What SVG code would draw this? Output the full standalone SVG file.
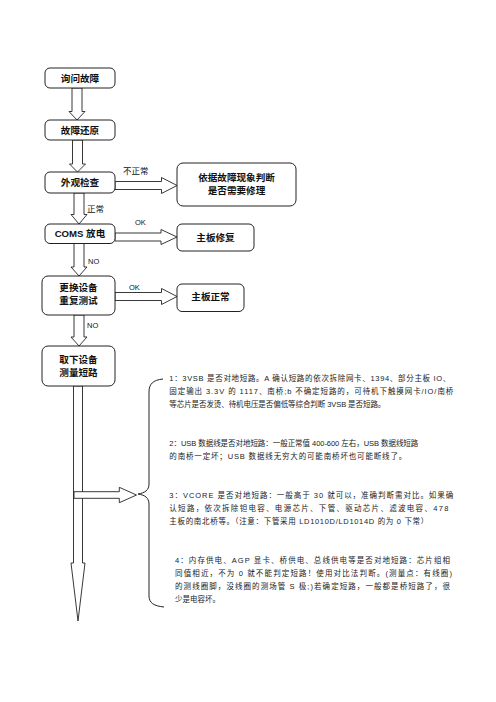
<svg xmlns="http://www.w3.org/2000/svg" width="496" height="702" viewBox="0 0 496 702">
<style>
.box{fill:#fff;stroke:#222;stroke-width:1}
.lbl{font-family:"Liberation Sans","Noto Sans CJK SC",sans-serif;font-size:9.6px;font-weight:bold;fill:#111;text-anchor:middle}
.arr{fill:#fff;stroke:#222;stroke-width:0.9;stroke-linejoin:miter}
.ed{font-family:"Noto Sans CJK SC","Liberation Sans",sans-serif;font-size:8.5px;fill:#111}
.en{font-family:"Liberation Sans",sans-serif;font-size:7.5px;fill:#111}
.p{font-family:"Liberation Sans","Noto Sans CJK SC",sans-serif;font-size:7.5px;fill:#222}
.brace{fill:none;stroke:#222;stroke-width:1}
</style>
<rect width="496" height="702" fill="#fff"/>
<g id="connectors">
<polygon class="arr" points="72,88 82,88 82,111.5 85,111.5 77,120 69,111.5 72,111.5"/>
<polygon class="arr" points="72.5,140 82.5,140 82.5,164 85.5,164 77.5,172 69.5,164 72.5,164"/>
<polygon class="arr" points="74,193 84,193 84,214.5 87,214.5 79,224 71,214.5 74,214.5"/>
<polygon class="arr" points="74,243.5 84,243.5 84,267 87,267 79,276 71,267 74,267"/>
<polygon class="arr" points="74,315 84,315 84,337 87,337 79,346 71,337 74,337"/>
<polygon class="arr" points="73.5,386 82.5,386 82.5,563 85,563 78,621 71,563 73.5,563"/>
<polygon class="arr" points="74,491.7 119.3,491.7 119.3,487.3 136.5,495 119.3,502.7 119.3,498.3 74,498.3"/>
<polygon class="arr" points="115,181.5 161.5,181.5 161.5,177.5 177,185.5 161.5,193.5 161.5,189.5 115,189.5"/>
<polygon class="arr" points="115,233 161,233 161,229.5 177,237 161,244.5 161,241 115,241"/>
<polygon class="arr" points="115,292.5 161.5,292.5 161.5,288.5 177,296.5 161.5,304.5 161.5,300.5 115,300.5"/>
<text class="ed" x="123" y="174">不正常</text>
<text class="ed" x="87" y="212">正常</text>
<text class="en" x="135" y="225">OK</text>
<text class="en" x="88" y="264">NO</text>
<text class="en" x="129" y="290">OK</text>
<text class="en" x="87" y="328">NO</text>
<path class="brace" d="M163,379 C153,380 149,384 149,392 L149,484 C149,490 145,493 138,494 C145,495 149,498 149,504 L149,596 C149,603 154,606 164,607"/>
</g>
<g id="n1"><rect class="box" x="45" y="68" width="70" height="20" rx="5"/><text class="lbl" x="80" y="81.5">询问故障</text></g>
<g id="n2"><rect class="box" x="45" y="120" width="70" height="20" rx="5"/><text class="lbl" x="80" y="133.5">故障还原</text></g>
<g id="n3"><rect class="box" x="45" y="172" width="70" height="21" rx="5"/><text class="lbl" x="80" y="186">外观检查</text></g>
<g id="n4"><rect class="box" x="45" y="224" width="70" height="19.5" rx="5"/><text class="lbl" x="80" y="237.3">COMS 放电</text></g>
<g id="n5"><rect class="box" x="42" y="276" width="73" height="39" rx="6"/><text class="lbl" x="78.5" y="290.5">更换设备</text><text class="lbl" x="78.5" y="304">重复测试</text></g>
<g id="n6"><rect class="box" x="42" y="346" width="73" height="40" rx="6"/><text class="lbl" x="78.5" y="362.5">取下设备</text><text class="lbl" x="78.5" y="376">测量短路</text></g>
<g id="nA"><rect class="box" x="177" y="163" width="119" height="43" rx="6"/><text class="lbl" x="236.5" y="180.5">依据故障现象判断</text><text class="lbl" x="236.5" y="194">是否需要修理</text></g>
<g id="nB"><rect class="box" x="177" y="224" width="77" height="27" rx="5"/><text class="lbl" x="215.5" y="240.5">主板修复</text></g>
<g id="nC"><rect class="box" x="177" y="284" width="67" height="27.5" rx="5"/><text class="lbl" x="210.5" y="299.5">主板正常</text></g>
<g id="notes">
<text class="p" x="169.3" y="381" textLength="281" lengthAdjust="spacing">1：3VSB 是否对地短路。A 确认短路的依次拆除网卡、1394、部分主板 IO、</text>
<text class="p" x="169.3" y="394" textLength="284" lengthAdjust="spacing">固定输出 3.3V 的 1117、南桥;b 不确定短路的，可待机下触摸网卡/IO/南桥</text>
<text class="p" x="169.3" y="407" textLength="216" lengthAdjust="spacing">等芯片是否发烫、待机电压是否偏低等综合判断 3VSB 是否短路。</text>
<text class="p" x="169.3" y="445.5" textLength="249" lengthAdjust="spacing">2：USB 数据线是否对地短路：一般正常值 400-600 左右，USB 数据线短路</text>
<text class="p" x="169.3" y="458.5" textLength="237" lengthAdjust="spacing">的南桥一定坏；USB 数据线无穷大的可能南桥坏也可能断线了。</text>
<text class="p" x="169.3" y="498" textLength="284" lengthAdjust="spacing">3：VCORE 是否对地短路：一般高于 30 就可以，准确判断需对比。如果确</text>
<text class="p" x="169.3" y="511" textLength="279" lengthAdjust="spacing">认短路，依次拆除钽电容、电源芯片、下管、驱动芯片、滤波电容、478</text>
<text class="p" x="169.3" y="524" textLength="259" lengthAdjust="spacing">主板的南北桥等。（注意：下管采用 LD1010D/LD1014D 的为 0 下常）</text>
<text class="p" x="175" y="562.5" textLength="275" lengthAdjust="spacing">4：内存供电、AGP 显卡、桥供电、总线供电等是否对地短路：芯片组相</text>
<text class="p" x="175" y="575.5" textLength="277" lengthAdjust="spacing">同值相近，不为 0 就不能判定短路！使用对比法判断。(测量点：有线圈)</text>
<text class="p" x="175" y="588.5" textLength="275" lengthAdjust="spacing">的测线圈脚，没线圈的测场管 S 极;)若确定短路，一般都是桥短路了，很</text>
<text class="p" x="175" y="601.5">少是电容坏。</text>
</g>
</svg>
